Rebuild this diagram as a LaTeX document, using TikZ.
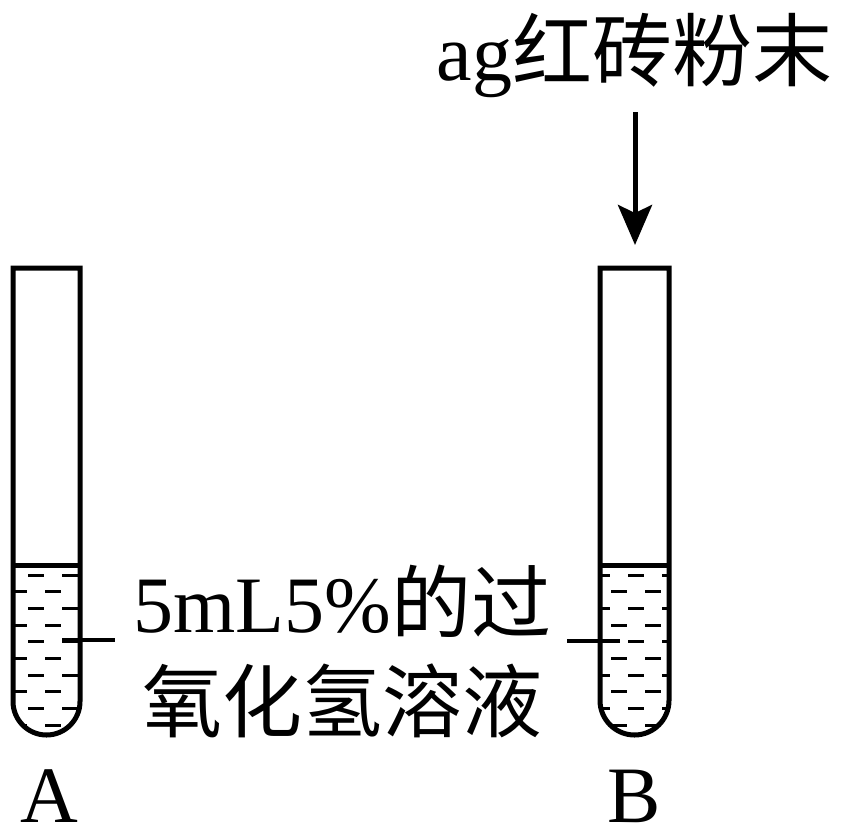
\documentclass[tikz,border=0pt]{standalone}
\usepackage{fontspec}
\setmainfont{Liberation Serif}
\newfontfamily\cjk{Noto Sans CJK SC}
\usetikzlibrary{arrows.meta}
\tikzset{
  glass/.style={line width=5pt, line join=miter},
  liquid/.style={line width=3pt, dash pattern=on 16pt off 18pt},
  leader/.style={line width=4.5pt},
  bigtext/.style={inner sep=0pt, font=\fontsize{80}{96}\selectfont},
}
\begin{document}
\begin{tikzpicture}[x=1pt,y=-1pt]
\useasboundingbox (0,0) rectangle (845,830);
% ---- liquid dashes, tube A
\begin{scope}
  \clip (13,565) -- (13,701.5) .. controls (13,720) and (28,735) .. (46.5,735)
        .. controls (65,735) and (80,720) .. (80,701.5) -- (80,565) -- cycle;
  \foreach \y in {575,608.3,641.7,675,708.3} \draw[liquid] (-6,\y) -- (100,\y);
  \foreach \y in {591.7,625,658.3,691.7,725} \draw[liquid] (11,\y) -- (100,\y);
\end{scope}
% ---- liquid dashes, tube B
\begin{scope}
  \clip (600,565) -- (600,700.5) .. controls (600,719.5) and (615.5,735) .. (634.5,735)
        .. controls (653.5,735) and (669,719.5) .. (669,700.5) -- (669,565) -- cycle;
  \foreach \y in {575,608.3,641.7,675,708.3} \draw[liquid] (560,\y) -- (700,\y);
  \foreach \y in {591.7,625,658.3,691.7,725} \draw[liquid] (577,\y) -- (700,\y);
\end{scope}
% ---- tube A
\draw[glass] (13,268) -- (13,701.5) .. controls (13,720) and (28,735) .. (46.5,735)
      .. controls (65,735) and (80,720) .. (80,701.5) -- (80,268) -- cycle;
\draw[glass] (13,565) -- (80,565);
% ---- tube B
\draw[glass] (600,268) -- (600,700.5) .. controls (600,719.5) and (615.5,735) .. (634.5,735)
      .. controls (653.5,735) and (669,719.5) .. (669,700.5) -- (669,268) -- cycle;
\draw[glass] (600,565) -- (669,565);
% ---- texts
\node[bigtext, anchor=base] (top) at (634.5,80) {ag{\cjk 红砖粉末}};
\node[bigtext, anchor=base] (lbl1) at (342.5,632) {5mL5\%{\cjk 的过}};
\node[bigtext, anchor=base] (lbl2) at (342.5,731) {\cjk 氧化氢溶液};
\node[bigtext, anchor=base] (labA) at (49,822) {A};
\node[bigtext, anchor=base] (labB) at (634.5,822) {B};
% ---- arrow
\coordinate (arrS) at (635,112);
\coordinate (arrE) at (635,245);
\draw[line width=5pt, -{Stealth[length=40pt,width=34pt,inset=8pt]}] (arrS) -- (arrE);
% ---- leader lines
\coordinate (lA1) at (62,640);
\coordinate (lA2) at (115,640);
\coordinate (lB1) at (567,641);
\coordinate (lB2) at (620,641);
\draw[leader] (lA1) -- (lA2);
\draw[leader] (lB1) -- (lB2);
\end{tikzpicture}
\end{document}
